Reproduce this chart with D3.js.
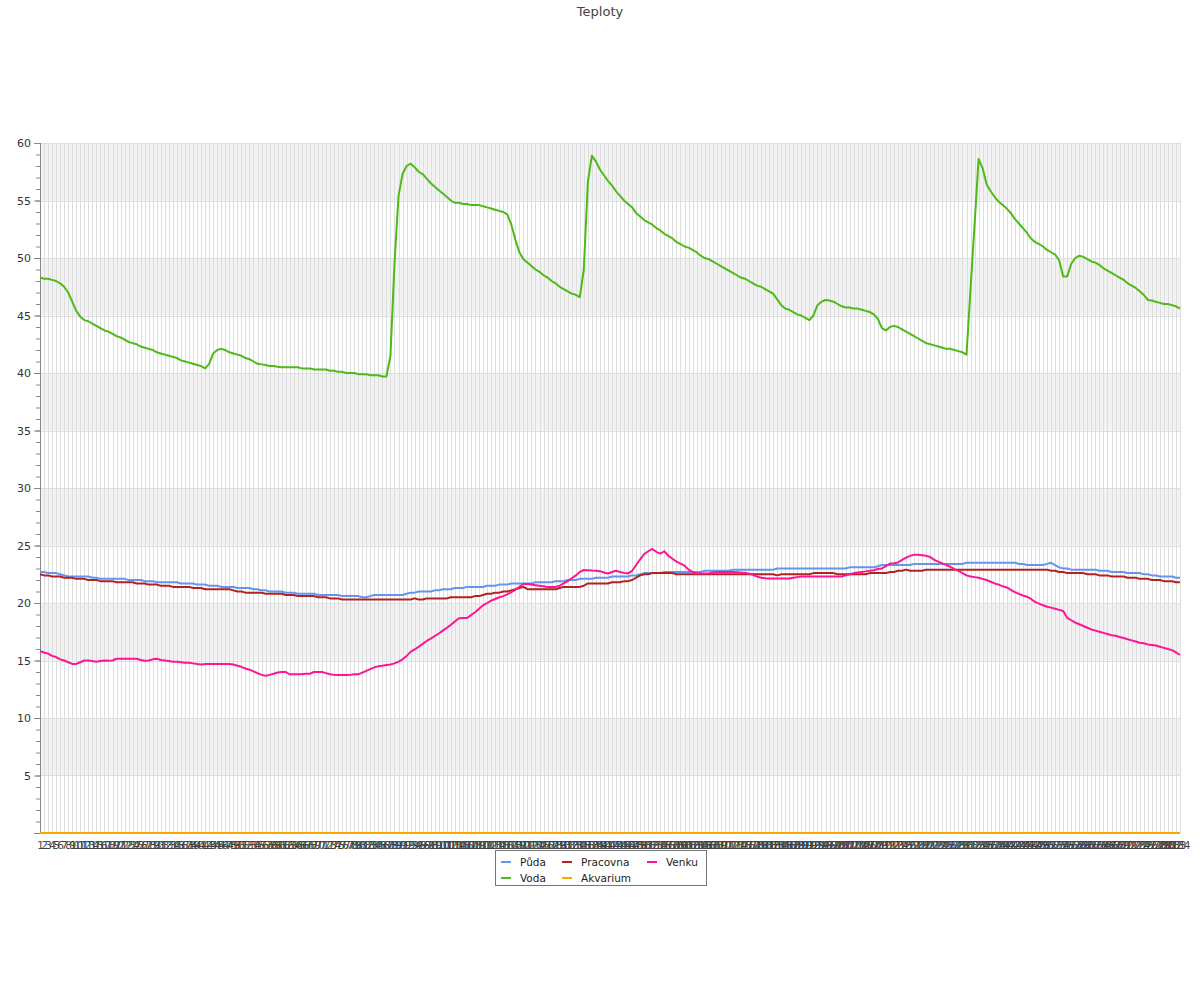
<!DOCTYPE html>
<html><head><meta charset="utf-8">
<script src="https://cdn.jsdelivr.net/npm/d3@7"></script>
<style>body{margin:0;background:#fff;font-family:"DejaVu Sans",sans-serif;}</style>
</head><body>
<svg id="c" width="1200" height="1000"></svg>
<script>
const title = "Teploty";
const categories = d3.range(1, 285).map(String);
const seriesNames = ["Půda","Voda","Pracovna","Akvarium","Venku"];
const seriesColors = ["#6495ed","#4cbb17","#b22222","#ffa500","#ff1493"];
const yTicks = [0,5,10,15,20,25,30,35,40,45,50,55,60];

const puda = [
22.7,22.7,22.6,22.6,22.6,22.5,22.4,22.3,22.3,22.3,22.3,22.3,22.3,22.2,22.2,22.1,22.1,22.1,22.1,22.1,
22.1,22.1,22.0,22.0,22.0,22.0,21.9,21.9,21.9,21.8,21.8,21.8,21.8,21.8,21.8,21.7,21.7,21.7,21.7,21.6,
21.6,21.6,21.5,21.5,21.5,21.4,21.4,21.4,21.4,21.3,21.3,21.3,21.3,21.2,21.2,21.1,21.1,21.0,21.0,21.0,
21.0,20.9,20.9,20.9,20.8,20.8,20.8,20.8,20.8,20.7,20.7,20.7,20.7,20.7,20.7,20.6,20.6,20.6,20.6,20.6,
20.5,20.5,20.6,20.7,20.7,20.7,20.7,20.7,20.7,20.7,20.7,20.8,20.9,20.9,21.0,21.0,21.0,21.0,21.1,21.1,
21.2,21.2,21.2,21.3,21.3,21.3,21.4,21.4,21.4,21.4,21.4,21.5,21.5,21.5,21.6,21.6,21.6,21.7,21.7,21.7,
21.7,21.7,21.7,21.8,21.8,21.8,21.8,21.8,21.9,21.9,21.9,22.0,22.0,22.0,22.1,22.1,22.1,22.1,22.2,22.2,
22.2,22.2,22.3,22.3,22.3,22.3,22.3,22.4,22.4,22.5,22.6,22.6,22.6,22.6,22.6,22.7,22.7,22.7,22.7,22.7,
22.7,22.7,22.7,22.7,22.7,22.8,22.8,22.8,22.8,22.8,22.8,22.8,22.9,22.9,22.9,22.9,22.9,22.9,22.9,22.9,
22.9,22.9,22.9,23.0,23.0,23.0,23.0,23.0,23.0,23.0,23.0,23.0,23.0,23.0,23.0,23.0,23.0,23.0,23.0,23.0,
23.0,23.1,23.1,23.1,23.1,23.1,23.1,23.1,23.2,23.3,23.3,23.3,23.3,23.3,23.3,23.3,23.3,23.4,23.4,23.4,
23.4,23.4,23.4,23.4,23.4,23.4,23.4,23.4,23.4,23.4,23.5,23.5,23.5,23.5,23.5,23.5,23.5,23.5,23.5,23.5,
23.5,23.5,23.5,23.4,23.4,23.3,23.3,23.3,23.3,23.3,23.4,23.5,23.3,23.1,23.0,23.0,22.9,22.9,22.9,22.9,
22.9,22.9,22.9,22.8,22.8,22.8,22.7,22.7,22.7,22.7,22.6,22.6,22.6,22.6,22.5,22.5,22.4,22.4,22.3,22.3,
22.3,22.3,22.2,22.2];

const voda = [
48.3,48.2,48.2,48.1,48.0,47.8,47.5,47.0,46.2,45.4,44.9,44.6,44.5,44.3,44.1,43.9,43.7,43.6,43.4,43.2,
43.1,42.9,42.7,42.6,42.5,42.3,42.2,42.1,42.0,41.8,41.7,41.6,41.5,41.4,41.3,41.1,41.0,40.9,40.8,40.7,
40.6,40.4,40.8,41.7,42.0,42.1,42.0,41.8,41.7,41.6,41.5,41.3,41.2,41.0,40.8,40.75,40.7,40.6,40.6,40.55,
40.5,40.5,40.5,40.5,40.5,40.4,40.4,40.4,40.3,40.3,40.3,40.3,40.2,40.2,40.1,40.1,40.0,40.0,40.0,39.9,
39.9,39.9,39.8,39.8,39.8,39.7,39.7,41.5,49.5,55.4,57.3,58.0,58.2,57.9,57.5,57.3,56.9,56.5,56.2,55.9,
55.6,55.3,55.0,54.8,54.8,54.7,54.7,54.6,54.6,54.6,54.5,54.4,54.3,54.2,54.1,54.0,53.8,52.9,51.6,50.5,
49.9,49.6,49.3,49.0,48.8,48.5,48.3,48.0,47.8,47.5,47.3,47.1,46.9,46.8,46.6,49.0,56.6,58.9,58.4,57.7,
57.2,56.7,56.3,55.8,55.4,55.0,54.7,54.4,53.9,53.6,53.3,53.1,52.9,52.6,52.4,52.1,51.9,51.7,51.4,51.2,
51.0,50.9,50.7,50.5,50.2,50.0,49.9,49.7,49.5,49.3,49.1,48.9,48.7,48.5,48.3,48.2,48.0,47.8,47.6,47.5,
47.3,47.1,46.9,46.4,45.9,45.6,45.5,45.3,45.1,45.0,44.8,44.6,45.0,45.9,46.2,46.35,46.3,46.2,46.0,45.8,
45.7,45.7,45.6,45.6,45.5,45.4,45.3,45.1,44.7,43.9,43.7,44.0,44.1,44.0,43.8,43.6,43.4,43.2,43.0,42.8,
42.6,42.5,42.4,42.3,42.2,42.1,42.1,42.0,41.9,41.8,41.6,47.3,52.9,58.6,57.8,56.4,55.8,55.3,54.9,54.6,
54.3,53.9,53.4,53.0,52.6,52.2,51.7,51.4,51.2,51.0,50.7,50.5,50.3,49.8,48.4,48.4,49.5,50.0,50.2,50.1,
49.9,49.7,49.6,49.4,49.1,48.9,48.7,48.5,48.3,48.1,47.8,47.6,47.4,47.1,46.8,46.35,46.3,46.2,46.1,46.0,
46.0,45.9,45.8,45.6];

const pracovna = [
22.5,22.4,22.4,22.3,22.3,22.3,22.2,22.2,22.2,22.1,22.1,22.1,22.0,22.0,22.0,21.9,21.9,21.9,21.9,21.8,
21.8,21.8,21.8,21.8,21.7,21.7,21.7,21.6,21.6,21.6,21.5,21.5,21.5,21.4,21.4,21.4,21.4,21.4,21.3,21.3,
21.3,21.2,21.2,21.2,21.2,21.2,21.2,21.2,21.1,21.0,21.0,20.9,20.9,20.9,20.9,20.9,20.8,20.8,20.8,20.8,
20.8,20.7,20.7,20.7,20.6,20.6,20.6,20.6,20.6,20.5,20.5,20.5,20.4,20.4,20.4,20.3,20.3,20.3,20.3,20.3,
20.3,20.3,20.3,20.3,20.3,20.3,20.3,20.3,20.3,20.3,20.3,20.3,20.3,20.4,20.3,20.3,20.4,20.4,20.4,20.4,
20.4,20.4,20.5,20.5,20.5,20.5,20.5,20.5,20.6,20.6,20.7,20.8,20.8,20.9,20.9,21.0,21.0,21.1,21.2,21.3,
21.4,21.2,21.2,21.2,21.2,21.2,21.2,21.2,21.2,21.3,21.4,21.4,21.4,21.4,21.4,21.5,21.7,21.7,21.7,21.7,
21.7,21.7,21.8,21.8,21.8,21.9,21.9,22.0,22.2,22.4,22.5,22.5,22.6,22.6,22.6,22.6,22.6,22.6,22.5,22.5,
22.5,22.5,22.5,22.5,22.5,22.5,22.5,22.5,22.5,22.5,22.5,22.5,22.5,22.5,22.5,22.5,22.5,22.5,22.5,22.5,
22.5,22.5,22.5,22.4,22.5,22.5,22.5,22.5,22.5,22.5,22.5,22.5,22.6,22.6,22.6,22.6,22.6,22.6,22.5,22.5,
22.5,22.5,22.5,22.5,22.5,22.5,22.6,22.6,22.6,22.6,22.6,22.7,22.7,22.8,22.8,22.9,22.8,22.8,22.8,22.8,
22.9,22.9,22.9,22.9,22.9,22.9,22.9,22.9,22.9,22.9,22.9,22.9,22.9,22.9,22.9,22.9,22.9,22.9,22.9,22.9,
22.9,22.9,22.9,22.9,22.9,22.9,22.9,22.9,22.9,22.9,22.9,22.8,22.8,22.7,22.7,22.6,22.6,22.6,22.6,22.6,
22.5,22.5,22.5,22.4,22.4,22.4,22.3,22.3,22.3,22.3,22.2,22.2,22.2,22.1,22.1,22.1,22.0,22.0,22.0,21.9,
21.9,21.9,21.8,21.8];

const akvarium = [
0,0,0,0,0,0,0,0,0,0,0,0,0,0,0,0,0,0,0,0,0,0,0,0,0,0,0,0,0,0,0,0,0,0,0,0,0,0,0,0,
0,0,0,0,0,0,0,0,0,0,0,0,0,0,0,0,0,0,0,0,0,0,0,0,0,0,0,0,0,0,0,0,0,0,0,0,0,0,0,0,
0,0,0,0,0,0,0,0,0,0,0,0,0,0,0,0,0,0,0,0,0,0,0,0,0,0,0,0,0,0,0,0,0,0,0,0,0,0,0,0,
0,0,0,0,0,0,0,0,0,0,0,0,0,0,0,0,0,0,0,0,0,0,0,0,0,0,0,0,0,0,0,0,0,0,0,0,0,0,0,0,
0,0,0,0,0,0,0,0,0,0,0,0,0,0,0,0,0,0,0,0,0,0,0,0,0,0,0,0,0,0,0,0,0,0,0,0,0,0,0,0,
0,0,0,0,0,0,0,0,0,0,0,0,0,0,0,0,0,0,0,0,0,0,0,0,0,0,0,0,0,0,0,0,0,0,0,0,0,0,0,0,
0,0,0,0,0,0,0,0,0,0,0,0,0,0,0,0,0,0,0,0,0,0,0,0,0,0,0,0,0,0,0,0,0,0,0,0,0,0,0,0,
0,0,0,0];

const venku = [
15.8,15.7,15.6,15.4,15.3,15.1,15.0,14.85,14.7,14.7,14.85,15.0,15.0,14.95,14.9,14.95,15.0,14.97,15.0,15.15,
15.15,15.15,15.15,15.15,15.15,15.05,14.97,15.0,15.1,15.15,15.05,15.0,14.95,14.9,14.9,14.85,14.8,14.8,14.75,14.7,
14.66,14.7,14.7,14.7,14.7,14.7,14.7,14.7,14.65,14.55,14.45,14.3,14.2,14.05,13.9,13.75,13.67,13.75,13.85,13.95,
14.0,14.0,13.8,13.8,13.8,13.8,13.85,13.85,14.0,14.0,14.0,13.9,13.8,13.75,13.74,13.74,13.74,13.75,13.8,13.8,
13.95,14.1,14.25,14.4,14.5,14.55,14.6,14.65,14.75,14.9,15.1,15.4,15.75,15.96,16.2,16.45,16.7,16.9,17.13,17.35,
17.6,17.85,18.1,18.4,18.67,18.7,18.7,18.95,19.2,19.5,19.8,20.0,20.2,20.35,20.5,20.6,20.75,20.95,21.15,21.4,
21.65,21.65,21.6,21.55,21.5,21.45,21.4,21.4,21.4,21.5,21.7,21.9,22.15,22.4,22.7,22.87,22.85,22.82,22.8,22.77,
22.65,22.57,22.7,22.8,22.7,22.62,22.57,22.8,23.3,23.8,24.26,24.5,24.7,24.45,24.3,24.5,24.1,23.85,23.6,23.43,
23.24,22.9,22.7,22.57,22.57,22.57,22.57,22.65,22.7,22.7,22.7,22.7,22.7,22.68,22.65,22.63,22.55,22.45,22.3,22.2,
22.15,22.13,22.13,22.13,22.13,22.13,22.13,22.2,22.25,22.3,22.3,22.3,22.3,22.3,22.3,22.3,22.3,22.3,22.3,22.3,
22.4,22.5,22.6,22.65,22.7,22.75,22.8,22.85,22.95,23.0,23.2,23.43,23.45,23.52,23.75,23.95,24.1,24.2,24.2,24.15,
24.1,24.0,23.75,23.6,23.45,23.3,23.15,22.95,22.8,22.6,22.4,22.3,22.25,22.2,22.1,22.0,21.85,21.7,21.6,21.45,
21.35,21.15,20.95,20.8,20.65,20.55,20.35,20.1,19.95,19.8,19.68,19.6,19.5,19.4,19.3,18.7,18.5,18.3,18.15,18.0,
17.85,17.7,17.6,17.5,17.4,17.3,17.2,17.15,17.05,16.95,16.85,16.75,16.65,16.55,16.5,16.4,16.35,16.3,16.2,16.1,
16.0,15.9,15.7,15.48];

const seriesValues = [puda, voda, pracovna, akvarium, venku];

const svg = d3.select("#c");
const L = 40, R = 1180, T = 143, B = 833;
const x = d3.scalePoint().domain(categories).range([L, R]);
const y = d3.scaleLinear().domain([0, 60]).range([B, T]);

// title
svg.append("text").attr("x", 600).attr("y", 16).attr("text-anchor", "middle")
  .attr("font-size", 13).attr("fill", "#444").text(title);

// bands
const g = svg.append("g");
for (let k = 0; k < yTicks.length - 1; k++) {
  if (k % 2 === 1) {
    g.append("rect").attr("x", L).attr("width", R - L)
      .attr("y", y(yTicks[k + 1])).attr("height", y(yTicks[k]) - y(yTicks[k + 1]))
      .attr("fill", "#f2f2f2");
  }
}
// vertical grid
g.selectAll("line.vg").data(categories).join("line").attr("class", "vg")
  .attr("x1", d => Math.round(x(d)) + 0.5).attr("x2", d => Math.round(x(d)) + 0.5)
  .attr("y1", T).attr("y2", B).attr("stroke", "#dedede").attr("stroke-width", 1);
// horizontal grid
g.selectAll("line.hg").data(yTicks.slice(1)).join("line").attr("class", "hg")
  .attr("x1", L).attr("x2", R)
  .attr("y1", d => Math.round(y(d)) + 0.5).attr("y2", d => Math.round(y(d)) + 0.5)
  .attr("stroke", "#dedede").attr("stroke-width", 1);

// y axis minor ticks
const minor = svg.append("g").attr("transform", `translate(${L},0)`)
  .call(d3.axisLeft(y).tickValues(d3.range(0, 61, 1)).tickSize(4).tickFormat(""));
minor.select(".domain").remove();
minor.selectAll("line").attr("stroke", "#888");
// y axis major
const ya = svg.append("g").attr("transform", `translate(${L},0)`)
  .call(d3.axisLeft(y).tickValues(yTicks).tickSize(6).tickPadding(3)
    .tickFormat(d => d === 0 ? "" : d));
ya.select(".domain").attr("stroke", "#888").attr("d", `M0.5,${T}V${B}`);
ya.selectAll("line").attr("stroke", "#888");
ya.selectAll("text").attr("font-size", 11).attr("fill", "#333")
  .attr("font-family", "DejaVu Sans");

// x axis
const xa = svg.append("g").attr("transform", `translate(0,${B})`)
  .call(d3.axisBottom(x).tickSize(0).tickPadding(9));
xa.select(".domain").attr("stroke", "#888").attr("d", `M${L - 5},0.5H${R}`);
xa.selectAll("text").attr("font-size", 10.5).attr("fill", "#444")
  .attr("font-family", "DejaVu Sans");

// lines
const line = d3.line().x((d, i) => x(categories[i])).y(d => y(d));
seriesValues.forEach((vals, s) => {
  svg.append("path").datum(vals).attr("d", line).attr("fill", "none")
    .attr("stroke", seriesColors[s]).attr("stroke-width", 2)
    .attr("stroke-linejoin", "round");
});

// legend
const lg = svg.append("g");
lg.append("rect").attr("x", 495.5).attr("y", 850.5).attr("width", 211).attr("height", 35)
  .attr("fill", "#fff").attr("stroke", "#777");
const legPos = [[501, 862], [501, 878], [562, 862], [562, 878], [647, 862]];
seriesNames.forEach((n, s) => {
  const [px, py] = legPos[s];
  lg.append("line").attr("x1", px).attr("x2", px + 10).attr("y1", py).attr("y2", py)
    .attr("stroke", seriesColors[s]).attr("stroke-width", 2);
  lg.append("text").attr("x", px + 19).attr("y", py + 3.5).attr("font-size", 10.5)
    .attr("fill", "#222").text(n);
});
</script>
</body></html>
